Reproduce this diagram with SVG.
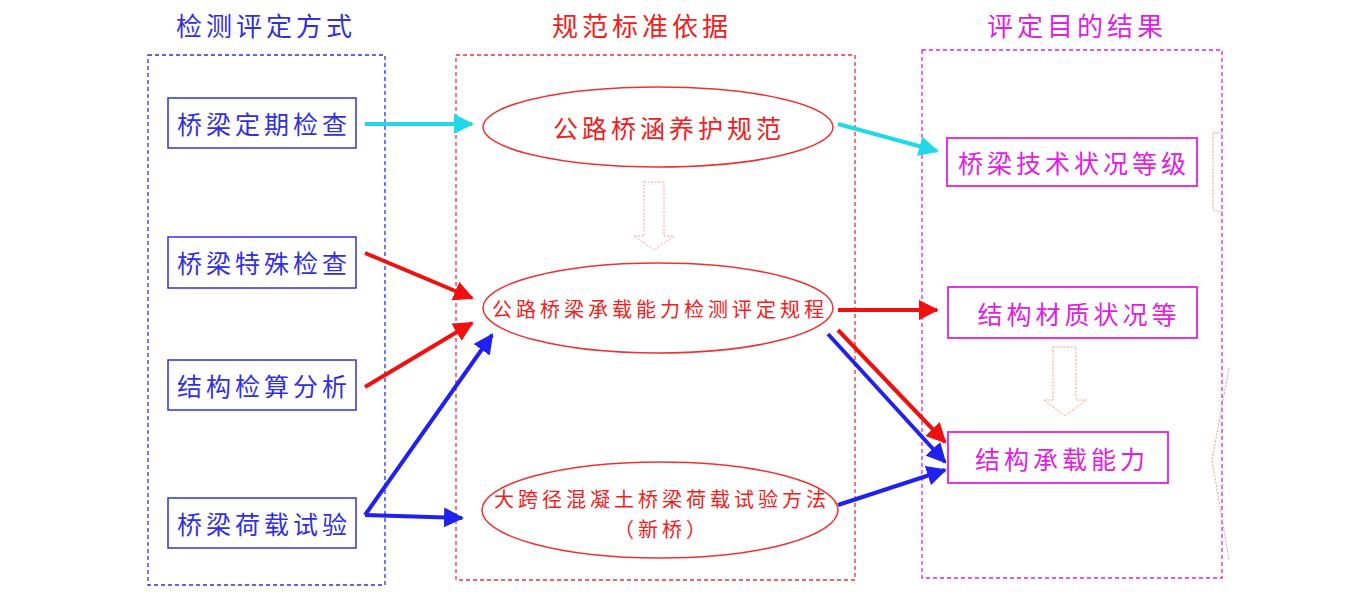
<svg xmlns="http://www.w3.org/2000/svg" width="1350" height="592" viewBox="0 0 1350 592">
<style>
text{font-family:"Noto Sans CJK SC","Noto Sans CJK JP",sans-serif;text-anchor:middle;dominant-baseline:central;letter-spacing:4px}
.bl{fill:#3030e0}.rd{fill:#f02020}.mg{fill:#e020e0}
.frame{fill:none;stroke-width:1.3;stroke-dasharray:4 3}
.c{stroke-width:4;fill:none}
</style>
<defs>
<marker id="ac" viewBox="0 0 10 10" refX="9" refY="5" markerWidth="5" markerHeight="5" orient="auto" markerUnits="strokeWidth"><path d="M0,0L10,5L0,10z" fill="#20d8e8"/></marker>
<marker id="ar" viewBox="0 0 10 10" refX="9" refY="5" markerWidth="5" markerHeight="5" orient="auto" markerUnits="strokeWidth"><path d="M0,0L10,5L0,10z" fill="#f01010"/></marker>
<marker id="ab" viewBox="0 0 10 10" refX="9" refY="5" markerWidth="5" markerHeight="5" orient="auto" markerUnits="strokeWidth"><path d="M0,0L10,5L0,10z" fill="#2020f0"/></marker>
</defs>
<rect width="1350" height="592" fill="#fff"/>
<g id="frames">
<rect class="frame" x="148" y="55" width="237" height="530" stroke="#3030e0"/>
<rect class="frame" x="456" y="55" width="399" height="525" stroke="#f03030"/>
<rect class="frame" x="922" y="50" width="300" height="528" stroke="#e020e0"/>
<text x="266" y="24" class="bl" font-size="26">检测评定方式</text>
<text x="642" y="24" class="rd" font-size="26">规范标准依据</text>
<text x="1077" y="24" class="mg" font-size="26">评定目的结果</text>
</g>
<g id="n1"><rect x="168" y="98" width="188" height="50" fill="#fff" stroke="#3030e0" stroke-width="1.5"/><text x="264" y="123" class="bl" font-size="25">桥梁定期检查</text></g>
<g id="n2"><rect x="168" y="237" width="188" height="51" fill="#fff" stroke="#3030e0" stroke-width="1.5"/><text x="264" y="262" class="bl" font-size="25">桥梁特殊检查</text></g>
<g id="n3"><rect x="168" y="360" width="188" height="50" fill="#fff" stroke="#3030e0" stroke-width="1.5"/><text x="264" y="385" class="bl" font-size="25">结构检算分析</text></g>
<g id="n4"><rect x="168" y="498" width="188" height="50" fill="#fff" stroke="#3030e0" stroke-width="1.5"/><text x="264" y="523" class="bl" font-size="25">桥梁荷载试验</text></g>
<g id="e1"><ellipse cx="658" cy="127" rx="175" ry="40" fill="#fff" stroke="#f03030" stroke-width="1.5"/><text x="669" y="127" class="rd" font-size="25">公路桥涵养护规范</text></g>
<g id="e2"><ellipse cx="658" cy="308" rx="175" ry="45" fill="#fff" stroke="#f03030" stroke-width="1.5"/><text x="660" y="308" class="rd" font-size="20" style="letter-spacing:4px">公路桥梁承载能力检测评定规程</text></g>
<g id="e3"><ellipse cx="660" cy="510" rx="178" ry="48" fill="#fff" stroke="#f03030" stroke-width="1.5"/><text x="662" y="498" class="rd" font-size="20">大跨径混凝土桥梁荷载试验方法</text><text x="662" y="528" class="rd" font-size="20">（新桥）</text></g>
<g id="r1"><rect x="947" y="138" width="250" height="48" fill="#fff" stroke="#e020e0" stroke-width="1.8"/><text x="1074" y="162" class="mg" font-size="25">桥梁技术状况等级</text></g>
<g id="r2"><rect x="948" y="287" width="249" height="51" fill="#fff" stroke="#e020e0" stroke-width="1.8"/><text x="1079" y="313" class="mg" font-size="25">结构材质状况等</text></g>
<g id="r3"><rect x="948" y="432" width="220" height="51" fill="#fff" stroke="#e020e0" stroke-width="1.8"/><text x="1062" y="458" class="mg" font-size="25">结构承载能力</text></g>
<g id="deco" fill="none" stroke="#e0a080" stroke-width="1" stroke-dasharray="2 1.5">
<path d="M1222,134 L1213,132 L1213,210 L1222,212"/>
<path d="M1229,368 L1212,460 L1229,560"/>
</g>
<g id="connectors">
<path d="M644,182 H664 V236 H674 L654,250 L634,236 H644 Z" fill="#fff" stroke="#f0a0a0" stroke-width="1" stroke-dasharray="2 1.5"/>
<path d="M1053,347 H1076 V400 H1086 L1065,416 L1044,400 H1053 Z" fill="#fff" stroke="#f0a080" stroke-width="1" stroke-dasharray="2 1.5"/>
<line class="c" x1="365" y1="124" x2="472" y2="124" stroke="#20d8e8" marker-end="url(#ac)"/>
<line class="c" x1="838" y1="124" x2="937" y2="151" stroke="#20d8e8" marker-end="url(#ac)"/>
<line class="c" x1="365" y1="253" x2="472" y2="298" stroke="#f01010" marker-end="url(#ar)"/>
<line class="c" x1="365" y1="387" x2="472" y2="323" stroke="#f01010" marker-end="url(#ar)"/>
<line class="c" x1="365" y1="515" x2="492" y2="335" stroke="#2020f0" marker-end="url(#ab)"/>
<line class="c" x1="365" y1="515" x2="462" y2="518" stroke="#2020f0" marker-end="url(#ab)"/>
<line class="c" x1="838" y1="310" x2="937" y2="310" stroke="#f01010" marker-end="url(#ar)"/>
<line class="c" x1="838" y1="330" x2="945" y2="442" stroke="#f01010" marker-end="url(#ar)"/>
<line class="c" x1="828" y1="334" x2="945" y2="462" stroke="#2020f0" marker-end="url(#ab)"/>
<line class="c" x1="838" y1="505" x2="945" y2="470" stroke="#2020f0" marker-end="url(#ab)"/>
</g>
</svg>
